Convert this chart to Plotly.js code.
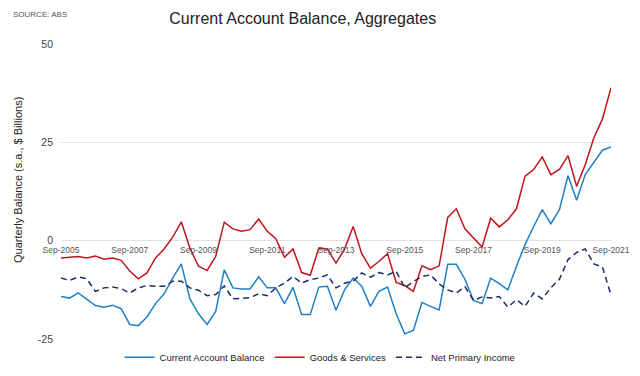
<!DOCTYPE html>
<html>
<head>
<meta charset="utf-8">
<script src="https://cdn.plot.ly/plotly-3.0.1.min.js"></script>
<style>
  html, body { margin: 0; padding: 0; background: #fff; }
  #chart { width: 640px; height: 376px; }
</style>
</head>
<body>
<div id="chart"></div>
<script>
// Quarterly series, Sep-2005 .. Sep-2021 ($ billions, s.a.)
const startYear = 2005;
const quarterMonths = ["Sep", "Dec", "Mar", "Jun"];
const quarters = [];
for (let i = 0; i < 65; i++) {
  const m = quarterMonths[i % 4];
  const yr = (i % 4 <= 1) ? startYear + Math.floor(i / 4) : startYear + Math.floor(i / 4) + 1;
  quarters.push(m + "-" + yr);
}

const currentAccount = [
  -14.2, -14.6, -13.3, -14.8, -16.5, -16.9, -16.4, -17.3, -21.3, -21.6,
  -19.4, -16.0, -13.5, -9.5, -5.9, -14.8, -18.6, -21.3, -18.0, -7.4,
  -12.0, -12.3, -12.3, -9.2, -12.0, -12.0, -16.0, -11.9, -18.8, -18.8,
  -11.8, -11.6, -17.7, -12.5, -9.5, -11.6, -16.7, -12.9, -11.8, -18.6,
  -23.7, -22.8, -15.7, -16.7, -17.6, -6.0, -6.0, -9.8, -15.2, -16.0,
  -9.5, -10.9, -12.5, -6.5, -1.0, 3.6, 7.9, 4.3, 7.9, 16.5,
  10.3, 16.8, 19.8, 23.0, 23.8
];

const goodsServices = [
  -4.4, -4.2, -4.0, -4.4, -3.9, -4.7, -4.4, -5.0, -7.7, -9.7,
  -8.2, -4.4, -2.1, 0.9, 4.8, -1.9, -6.5, -7.6, -4.0, 4.7,
  3.0, 2.4, 2.8, 5.5, 2.4, 0.5, -4.2, -2.1, -8.1, -8.8,
  -1.9, -2.1, -5.7, -2.1, 3.6, -3.3, -7.0, -5.3, -3.3, -10.6,
  -11.4, -12.9, -6.4, -7.4, -6.4, 5.9, 8.1, 3.0, 0.6, -1.6,
  5.7, 3.5, 5.3, 8.1, 16.4, 18.1, 21.3, 16.8, 18.1, 21.6,
  13.8, 19.3, 26.1, 30.9, 38.9
];

const netPrimaryIncome = [
  -9.5, -10.1, -9.2, -9.7, -12.9, -12.0, -11.8, -12.2, -13.3, -12.0,
  -11.4, -11.6, -11.6, -10.3, -10.3, -12.0, -12.6, -14.0, -13.7, -11.5,
  -14.8, -14.6, -14.5, -13.5, -14.0, -12.0, -10.8, -9.1, -10.8, -9.9,
  -9.5, -8.7, -12.0, -10.8, -10.3, -8.2, -9.3, -8.1, -8.7, -7.8,
  -12.0, -10.4, -9.1, -8.7, -11.0, -12.5, -13.3, -11.7, -15.2, -14.3,
  -14.6, -14.2, -16.9, -15.0, -16.7, -13.3, -14.8, -12.0, -9.8, -4.8,
  -3.0, -2.1, -5.9, -6.7, -13.8
];

const tickLabels = ["Sep-2005", "Sep-2007", "Sep-2009", "Sep-2011", "Sep-2013",
                    "Sep-2015", "Sep-2017", "Sep-2019", "Sep-2021"];
const yTicks = [-25, 0, 25, 50];

const FONT = "Liberation Sans, Arial, sans-serif";

const traces = [
  { x: quarters, y: currentAccount, name: "Current Account Balance", type: "scatter", mode: "lines",
    line: { color: "#1f80c6", width: 1.5 } },
  { x: quarters, y: goodsServices, name: "Goods & Services", type: "scatter", mode: "lines",
    line: { color: "#c0141c", width: 1.5 } },
  { x: quarters, y: netPrimaryIncome, name: "Net Primary Income", type: "scatter", mode: "lines",
    line: { color: "#1b2a6b", width: 1.5, dash: "6px,4px" } }
];

const layout = {
  width: 640, height: 376,
  margin: { l: 61, r: 29, t: 44, b: 37, pad: 0, autoexpand: false },
  paper_bgcolor: "#fff", plot_bgcolor: "#fff",
  font: { family: FONT, color: "#444", size: 11 },
  showlegend: true,
  title: {
    text: "Current Account Balance, Aggregates",
    font: { family: FONT, size: 16, color: "#222" },
    xref: "container", x: 0.473, xanchor: "center",
    yref: "container", y: 0.952, yanchor: "middle"
  },
  xaxis: {
    type: "category",
    range: [0, 64],
    tickmode: "array",
    tickvals: tickLabels,
    ticktext: tickLabels,
    showgrid: false, zeroline: false, showline: false,
    ticks: "",
    anchor: "free", position: 1 / 3,
    ticklabelstandoff: 3,
    tickfont: { family: FONT, size: 8.5, color: "#555" },
    tickangle: 0,
    fixedrange: true
  },
  yaxis: {
    range: [-25, 50],
    tickmode: "array",
    tickvals: yTicks,
    ticktext: yTicks.map(String),
    showgrid: true, gridcolor: "#e3e3e3", gridwidth: 1,
    zeroline: true, zerolinecolor: "#e3e3e3", zerolinewidth: 1,
    showline: false, ticks: "",
    ticklabelstandoff: 7,
    tickfont: { family: FONT, size: 10.5, color: "#444" },
    fixedrange: true
  },
  legend: {
    orientation: "h",
    x: 0.471, xanchor: "center",
    y: -0.062, yanchor: "middle",
    font: { family: FONT, size: 9.5, color: "#222" },
    itemwidth: 30,
    tracegroupgap: 0,
    bgcolor: "rgba(0,0,0,0)"
  },
  annotations: [
    { text: "SOURCE: ABS", xref: "paper", yref: "paper",
      x: -50 / 550, y: (339 - 14) / 295, xanchor: "left", yanchor: "middle",
      showarrow: false, font: { family: FONT, size: 8, color: "#555" } },
    { text: "Quarterly Balance (s.a., $ Billions)", xref: "paper", yref: "paper",
      x: (18 - 61) / 550, y: (339 - 180) / 295, xanchor: "center", yanchor: "middle",
      textangle: -90, showarrow: false, font: { family: FONT, size: 11, color: "#222" } }
  ]
};

Plotly.newPlot("chart", traces, layout, { displayModeBar: false, staticPlot: true });
</script>
</body>
</html>
